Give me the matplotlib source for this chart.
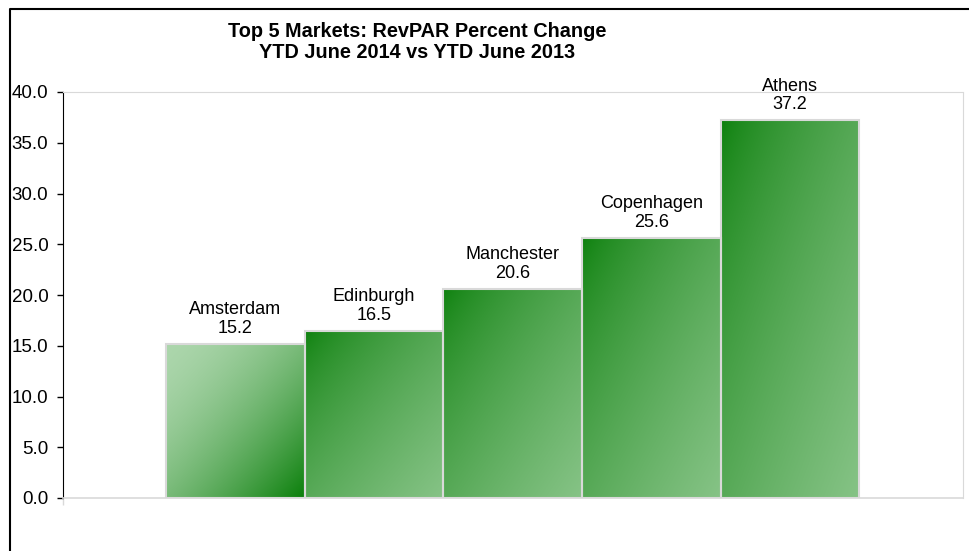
import numpy as np
import matplotlib
matplotlib.use("Agg")
import matplotlib.pyplot as plt
from matplotlib.lines import Line2D
from matplotlib.colors import to_rgb

plt.rcParams['font.family'] = ['Liberation Sans', 'DejaVu Sans']

# data
markets = ['Amsterdam', 'Edinburgh', 'Manchester', 'Copenhagen', 'Athens']
revpar_change = [15.2, 16.5, 20.6, 25.6, 37.2]
y_ticks = [0, 5, 10, 15, 20, 25, 30, 35, 40]

dark_green = to_rgb('#0c800c')
light_green = to_rgb('#86c386')
pale_green = to_rgb('#acd6ac')


def gradient(c_start, c_end, n=80, power=0.8):
    # diagonal gradient, c_start at top-left, c_end at bottom-right
    u = np.linspace(0, 1, n)[None, :]
    v = np.linspace(0, 1, n)[:, None]   # 0 at top row
    t = ((u + v) / 2.0) ** power
    t = t[..., None]
    a = np.array(c_start)[None, None, :]
    b = np.array(c_end)[None, None, :]
    return a + (b - a) * t


fig = plt.figure(figsize=(9.7, 5.51), dpi=100)
ax = fig.add_axes([63 / 970, 1 - 498 / 551, 900 / 970, 406 / 551])

x = np.arange(len(markets))
bars = ax.bar(x, revpar_change, width=1.0, color='none', edgecolor='#d9d9d9',
              linewidth=1.5, zorder=3)

for i, b in enumerate(bars):
    x0 = b.get_x()
    w = b.get_width()
    h = b.get_height()
    if i == 0:
        img = gradient(pale_green, dark_green, power=1.6)
    else:
        img = gradient(dark_green, light_green, power=0.7)
    im = ax.imshow(img, extent=[x0, x0 + w, 0, h], aspect='auto',
                   origin='upper', zorder=2, interpolation='bilinear')
    im.set_clip_path(b)
    ax.annotate('{}\n{:.1f}'.format(markets[i], revpar_change[i]),
                xy=(i, revpar_change[i]), xytext=(0, 5),
                textcoords='offset points', ha='center', va='bottom',
                fontsize=13, linespacing=1.15)

ax.set_xlim(-1.245, 5.25)
ax.set_ylim(0, 40)
ax.set_yticks(y_ticks)
ax.set_yticklabels(['{:.1f}'.format(t) for t in y_ticks], fontsize=13.5)
ax.tick_params(axis='y', length=4, width=1, pad=6.5, direction='out')
ax.set_xticks([-1.245])
ax.set_xticklabels([''])
ax.tick_params(axis='x', length=5, width=1, color='#d9d9d9')

ax.spines['left'].set_color('black')
ax.spines['bottom'].set_color('#d9d9d9')
ax.spines['bottom'].set_linewidth(1.2)
for s in ['top', 'right']:
    ax.spines[s].set_color('#d9d9d9')
    ax.spines[s].set_linestyle((0, (1, 1)))
    ax.spines[s].set_linewidth(0.8)

fig.text(0.43, 1 - 42 / 551,
         'Top 5 Markets: RevPAR Percent Change\nYTD June 2014 vs YTD June 2013',
         ha='center', va='center', fontsize=14.3, fontweight='bold', linespacing=1.15)

# outer chart frame (top and left visible, the rest is cut off)
fig.add_artist(Line2D([10 / 970, 10 / 970, 1.01], [-0.01, 1 - 9 / 551, 1 - 9 / 551],
                      transform=fig.transFigure, color='black', linewidth=1.5))

fig.savefig('out.png', dpi=100)
